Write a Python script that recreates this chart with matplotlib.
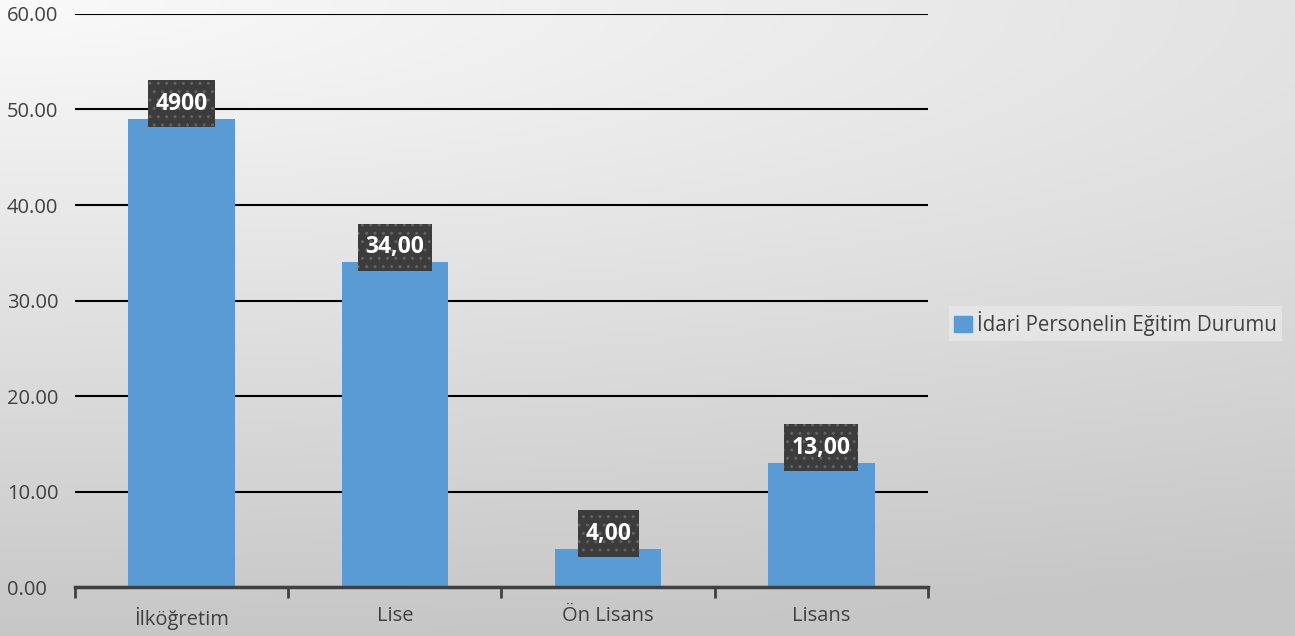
import numpy as np
import matplotlib.pyplot as plt
from matplotlib.patches import Rectangle

plt.rcParams['font.family'] = ['Open Sans', 'DejaVu Sans']
plt.rcParams['hatch.linewidth'] = 1.0

# data
categories = ['İlköğretim', 'Lise', 'Ön Lisans', 'Lisans']
values = [49, 34, 4, 13]
value_labels = ['4900', '34,00', '4,00', '13,00']
series_name = 'İdari Personelin Eğitim Durumu'

fig = plt.figure(figsize=(12.95, 6.36), dpi=100)

# gradient background: light top-left, gray towards the bottom
bg = fig.add_axes([0, 0, 1, 1], zorder=-10)
yy, xx = np.mgrid[0:1:300j, 0:1:600j]
dist = np.minimum(1, np.sqrt((0.45 * xx) ** 2 + yy ** 2))
shade = 0.98 - 0.2 * dist
bg.imshow(np.dstack([shade] * 3), aspect='auto', extent=[0, 1, 0, 1],
          origin='upper')
bg.axis('off')

ax = fig.add_axes([0.058, 0.077, 0.6585, 0.901])
ax.patch.set_alpha(0)

x = np.arange(len(categories))
ax.bar(x, values, width=0.5, color='#5b9bd5', zorder=2)

ax.set_xlim(-0.5, len(categories) - 0.5)
ax.set_ylim(0, 60)
ax.set_yticks(np.arange(0, 61, 10))
ax.set_yticklabels([f'{v:.2f}' for v in np.arange(0, 61, 10)])
ax.set_xticks(x)
ax.set_xticklabels(categories)
ax.tick_params(axis='both', length=0, labelsize=14.5, colors='#404040')
ax.tick_params(axis='x', pad=14)
# y labels are left aligned near the figure edge
ax.tick_params(axis='y', pad=49)
for lab in ax.get_yticklabels():
    lab.set_horizontalalignment('left')

# boundary tick marks on the category axis
ax.set_xticks(np.arange(-0.5, len(categories)), minor=True)
ax.tick_params(axis='x', which='minor', length=8, width=2, color='#404040',
               direction='out')

ax.yaxis.grid(True, color='black', linewidth=1.5, zorder=0)
ax.set_axisbelow(True)
for s in ['top', 'right', 'left']:
    ax.spines[s].set_visible(False)
ax.spines['bottom'].set_color('#404040')
ax.spines['bottom'].set_linewidth(2.5)
ax.spines['bottom'].set_zorder(3)

# data labels in dark dotted boxes
labels = []
for xi, v, lab in zip(x, values, value_labels):
    t = ax.text(xi, v + 1.6, lab, ha='center', va='center', fontsize=16.5,
                fontweight='bold', color='white', zorder=6)
    labels.append(t)

fig.canvas.draw()
renderer = fig.canvas.get_renderer()
for t in labels:
    bb = t.get_window_extent(renderer)
    cx, cy = (bb.x0 + bb.x1) / 2, (bb.y0 + bb.y1) / 2
    w, h = bb.width + 15, 47
    box = Rectangle((cx - w / 2, cy - h / 2), w, h, transform=None,
                    facecolor='#3c3c3c', edgecolor='#626262', linewidth=0,
                    hatch='..', zorder=5)
    ax.add_artist(box)

# legend
leg = ax.legend([Rectangle((0, 0), 1, 1, color='#5b9bd5')], [series_name],
                loc='center left', bbox_to_anchor=(1.013, 0.46), frameon=True,
                fontsize=14.8, handlelength=0.85, handleheight=0.85,
                handletextpad=0.25, borderpad=0.25, fancybox=False)
leg.get_frame().set_facecolor('#e8e8e8')
leg.get_frame().set_edgecolor('none')
for t in leg.get_texts():
    t.set_color('#404040')

fig.savefig('out.png', dpi=100)
